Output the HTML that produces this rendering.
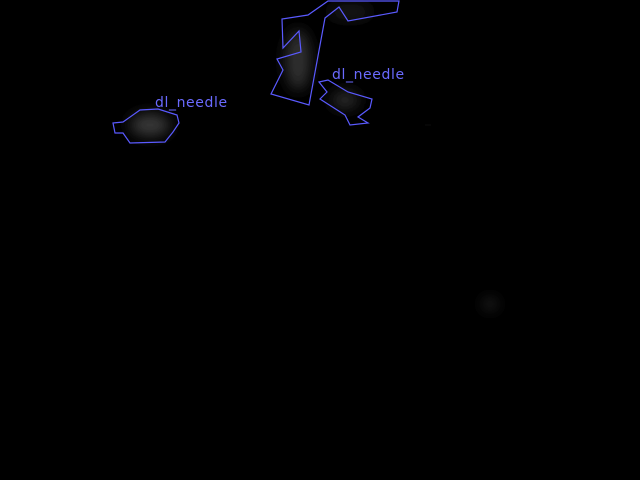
<!DOCTYPE html>
<html><head><meta charset="utf-8"><style>
html,body{margin:0;padding:0;background:#000;width:640px;height:480px;overflow:hidden}
svg{display:block}
text{font-family:"DejaVu Sans","Liberation Sans",sans-serif;font-size:14px;fill:#6a6aff;letter-spacing:0.6px}
</style></head><body>
<svg width="640" height="480">
<defs>
<filter id="b" x="-50%" y="-50%" width="200%" height="200%"><feGaussianBlur stdDeviation="7"/></filter>
</defs>
<rect width="640" height="480" fill="#000"/>
<g filter="url(#b)">
<ellipse cx="150" cy="125" rx="20" ry="11" fill="#3a3a3a"/>
<ellipse cx="298" cy="60" rx="12" ry="30" fill="#333"/>
<ellipse cx="345" cy="100" rx="14" ry="8" fill="#2e2e2e"/>
<ellipse cx="350" cy="12" rx="22" ry="6" fill="#222"/>
<ellipse cx="490" cy="304" rx="6" ry="3" fill="#555"/>
<ellipse cx="428" cy="125" rx="4" ry="3" fill="#222"/>
</g>
<g fill="none" stroke="#5a5aff" stroke-width="1.2">
<polygon points="328,1 399,1 397,12 348,21 339,7 325,18 309,105 271,94 283,70 277,59 301,52 299,31 283,48 282,19 308,15"/>
<polygon points="319,82 328,80 348,92 372,99 370,108 358,117 368,123 350,125 345,115 320,99 327,92"/>
<polygon points="113,123 123,122 140,110 158,109 177,115 179,123 173,132 165,142 130,143 123,133 115,133"/>
</g>
<text x="332" y="79">dl_needle</text>
<text x="155" y="107">dl_needle</text>
</svg>
</body></html>
